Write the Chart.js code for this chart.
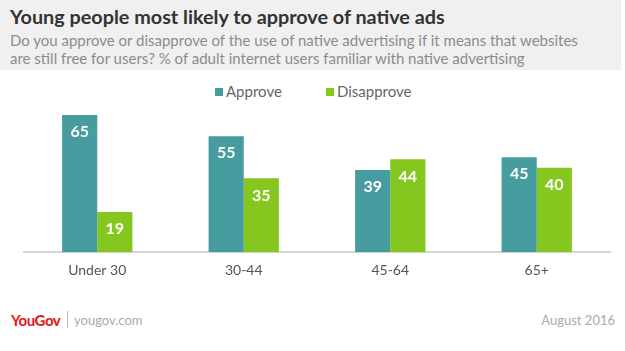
<!DOCTYPE html>
<html><head><meta charset="utf-8">
<script src="https://cdn.jsdelivr.net/npm/chart.js@4/dist/chart.umd.min.js"></script>
<style>
html,body{margin:0;padding:0;background:#fff;width:625px;height:351px;overflow:hidden;font-family:Lato,"Open Sans",sans-serif;}
#hdr{position:absolute;left:0;top:0;width:621px;height:70px;background:#f0f0f0;}
#title{position:absolute;left:10px;top:4px;font-size:19.8px;font-weight:bold;color:#333;white-space:nowrap;}
.sub{position:absolute;left:10px;font-size:15px;color:#8c8c8c;white-space:nowrap;}
#wrap{position:absolute;left:0;top:80px;width:625px;height:220px;}
#legend{position:absolute;top:82px;left:0;width:625px;font-size:15px;color:#666;}
.li{position:absolute;top:0;white-space:nowrap;}
.sw{display:inline-block;width:8px;height:8px;margin-right:3px;vertical-align:1px;}
#logo{position:absolute;left:11px;top:311px;font-size:15px;font-weight:bold;color:#e4161c;letter-spacing:-0.5px;}
#logo b{color:#d8262c;}
#sep{position:absolute;left:67px;top:311px;width:1px;height:17px;background:#bbb;}
#site{position:absolute;left:74px;top:312px;font-size:13px;color:#aaa;}
#date{position:absolute;right:10px;top:312px;font-size:13px;color:#aaa;}
</style></head>
<body>
<div id="hdr">
<div id="title">Young people most likely to approve of native ads</div>
<div class="sub" style="top:31px">Do you approve or disapprove of the use of native advertising if it means that websites</div>
<div class="sub" style="top:49px">are still free for users? % of adult internet users familiar with native advertising</div>
</div>
<div id="legend"></div>
<div id="wrap"><canvas id="c" width="625" height="220"></canvas></div>
<div id="logo">You<b>Gov</b></div>
<div id="sep"></div>
<div id="site">yougov.com</div>
<div id="date">August 2016</div>
<script>
const categories = ["Under 30", "30-44", "45-64", "65+"];
const approve = [65, 55, 39, 45];
const disapprove = [19, 35, 44, 40];
const seriesNames = ["Approve", "Disapprove"];
const colors = ["#469c9e", "#85c71e"];

// HTML legend
const lg = document.getElementById('legend');
const lpos = [215, 326];
seriesNames.forEach((n, i) => {
  const d = document.createElement('div');
  d.className = 'li';
  d.style.left = lpos[i] + 'px';
  d.innerHTML = '<span class="sw" style="background:' + colors[i] + '"></span>' + n;
  lg.appendChild(d);
});

const valueLabels = {
  id: 'valueLabels',
  afterDatasetsDraw(chart) {
    const ctx = chart.ctx;
    ctx.save();
    ctx.fillStyle = '#fff';
    ctx.font = 'bold 16px Lato, sans-serif';
    ctx.textAlign = 'center';
    ctx.textBaseline = 'middle';
    chart.data.datasets.forEach((ds, di) => {
      const meta = chart.getDatasetMeta(di);
      meta.data.forEach((bar, i) => {
        ctx.fillText(String(ds.data[i]), bar.x, bar.y + 17);
      });
    });
    ctx.restore();
  }
};

new Chart(document.getElementById('c'), {
  type: 'bar',
  data: {
    labels: categories,
    datasets: [
      {label: seriesNames[0], data: approve, backgroundColor: colors[0], categoryPercentage: 0.48, barPercentage: 1.0},
      {label: seriesNames[1], data: disapprove, backgroundColor: colors[1], categoryPercentage: 0.48, barPercentage: 1.0}
    ]
  },
  options: {
    responsive: false,
    animation: false,
    layout: {padding: {left: 24, right: 15, top: 24.5, bottom: 11}},
    plugins: {legend: {display: false}, tooltip: {enabled: false}},
    scales: {
      x: {
        grid: {display: false, drawTicks: false},
        border: {display: true, color: '#d6d6d6', width: 2},
        ticks: {color: '#555', font: {size: 14, family: 'Lato'}, padding: 10}
      },
      y: {display: false, min: 0, max: 70}
    }
  },
  plugins: [valueLabels]
});
</script>
</body></html>
